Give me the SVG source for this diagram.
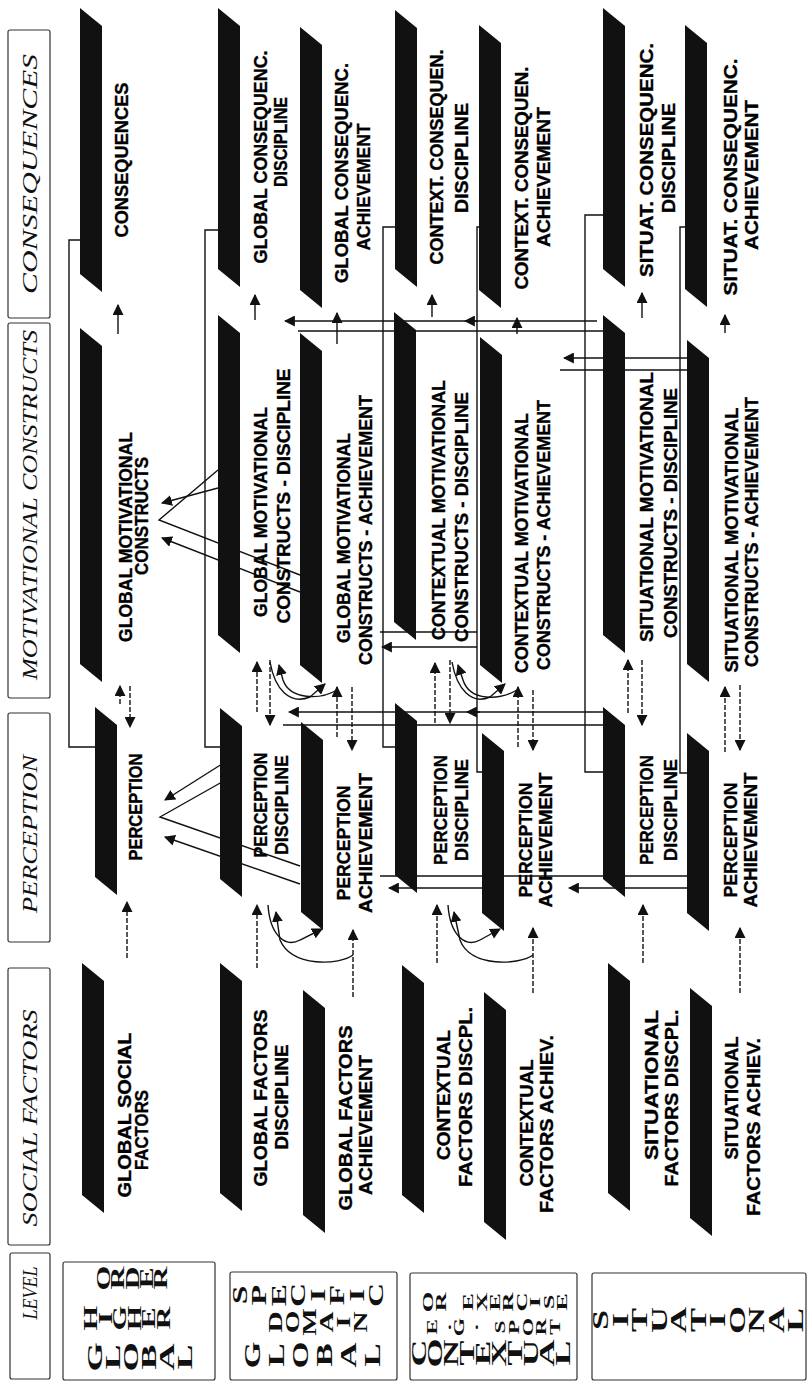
<svg xmlns="http://www.w3.org/2000/svg" width="809" height="1382" viewBox="0 0 809 1382">
<style>
.bar{fill:#111}
.t{font-family:"Liberation Sans",Arial,sans-serif;font-weight:bold;font-size:18px;fill:#000;stroke:#000;stroke-width:0.35}
.h{font-family:"Liberation Serif","Times New Roman",serif;font-style:italic;font-size:22px;fill:#111}
.bx{fill:none;stroke:#333;stroke-width:1.2}
.g{font-family:"Liberation Serif","Times New Roman",serif;font-weight:bold;fill:#111;text-anchor:middle}
.c{fill:none;stroke:#111;stroke-width:1.4}
.d{stroke-dasharray:5 2}
</style>
<defs>
<marker id="a" viewBox="0 0 10 10" refX="9" refY="5" markerUnits="userSpaceOnUse" markerWidth="11" markerHeight="11" orient="auto"><path d="M0,0 L10,5 L0,10 z" fill="#111"/></marker>
</defs>
<rect width="809" height="1382" fill="#fff"/>

<g id="headers">
<rect class="bx" x="8" y="30" width="42" height="288" rx="2"/>
<text class="h" transform="translate(37,174) rotate(-90)" text-anchor="middle" textLength="240" lengthAdjust="spacingAndGlyphs">CONSEQUENCES</text>
<rect class="bx" x="8" y="323" width="42" height="375" rx="2"/>
<text class="h" transform="translate(37,505) rotate(-90)" text-anchor="middle" textLength="350" lengthAdjust="spacingAndGlyphs">MOTIVATIONAL CONSTRUCTS</text>
<rect class="bx" x="8" y="713" width="42" height="229" rx="2"/>
<text class="h" transform="translate(37,834) rotate(-90)" text-anchor="middle" textLength="158" lengthAdjust="spacingAndGlyphs">PERCEPTION</text>
<rect class="bx" x="8" y="968" width="42" height="277" rx="2"/>
<text class="h" transform="translate(37,1118) rotate(-90)" text-anchor="middle" textLength="217" lengthAdjust="spacingAndGlyphs">SOCIAL FACTORS</text>
<rect class="bx" x="10" y="1253" width="40" height="126" rx="2"/>
<text class="h" transform="translate(37,1293) rotate(-90)" text-anchor="middle" textLength="53" lengthAdjust="spacingAndGlyphs">LEVEL</text>
</g>

<g id="levels">
<rect class="bx" x="63" y="1262" width="152" height="118" rx="2"/>
<g class="g" font-size="18">
<text transform="translate(110,1278) rotate(-90) scale(1.77,1)">O</text><text transform="translate(124,1278) rotate(-90) scale(1.77,1)">R</text><text transform="translate(139,1278) rotate(-90) scale(1.77,1)">D</text><text transform="translate(153,1278) rotate(-90) scale(1.77,1)">E</text><text transform="translate(167,1278) rotate(-90) scale(1.77,1)">R</text>
<text transform="translate(97,1318) rotate(-90) scale(1.77,1)">H</text><text transform="translate(112,1318) rotate(-90) scale(1.77,1)">I</text><text transform="translate(126,1318) rotate(-90) scale(1.77,1)">G</text><text transform="translate(141,1318) rotate(-90) scale(1.77,1)">H</text><text transform="translate(155,1318) rotate(-90) scale(1.77,1)">E</text><text transform="translate(170,1318) rotate(-90) scale(1.77,1)">R</text>
</g>
<g class="g" font-size="21">
<text transform="translate(102,1357) rotate(-90) scale(1.79,1)">G</text><text transform="translate(120,1357) rotate(-90) scale(1.79,1)">L</text><text transform="translate(138,1357) rotate(-90) scale(1.79,1)">O</text><text transform="translate(156,1357) rotate(-90) scale(1.79,1)">B</text><text transform="translate(174,1357) rotate(-90) scale(1.79,1)">A</text><text transform="translate(192,1357) rotate(-90) scale(1.79,1)">L</text>
</g>
<rect class="bx" x="230" y="1272" width="167" height="108" rx="2"/>
<g class="g" font-size="21">
<text transform="translate(247,1295) rotate(-90) scale(1.59,1)">S</text><text transform="translate(266,1295) rotate(-90) scale(1.59,1)">P</text><text transform="translate(286,1295) rotate(-90) scale(1.59,1)">E</text><text transform="translate(305,1295) rotate(-90) scale(1.59,1)">C</text><text transform="translate(325,1295) rotate(-90) scale(1.59,1)">I</text><text transform="translate(344,1295) rotate(-90) scale(1.59,1)">F</text><text transform="translate(364,1295) rotate(-90) scale(1.59,1)">I</text><text transform="translate(383,1295) rotate(-90) scale(1.59,1)">C</text>
</g>
<g class="g" font-size="18">
<text transform="translate(282,1322) rotate(-90) scale(1.62,1)">D</text><text transform="translate(299,1322) rotate(-90) scale(1.62,1)">O</text><text transform="translate(316,1322) rotate(-90) scale(1.62,1)">M</text><text transform="translate(333,1322) rotate(-90) scale(1.62,1)">A</text><text transform="translate(350,1322) rotate(-90) scale(1.62,1)">I</text><text transform="translate(367,1322) rotate(-90) scale(1.62,1)">N</text>
</g>
<g class="g" font-size="23">
<text transform="translate(260,1355) rotate(-90) scale(1.51,1)">G</text><text transform="translate(284,1355) rotate(-90) scale(1.51,1)">L</text><text transform="translate(308,1355) rotate(-90) scale(1.51,1)">O</text><text transform="translate(332,1355) rotate(-90) scale(1.51,1)">B</text><text transform="translate(356,1355) rotate(-90) scale(1.51,1)">A</text><text transform="translate(380,1355) rotate(-90) scale(1.51,1)">L</text>
</g>
<rect class="bx" x="410" y="1273" width="167" height="107" rx="2"/>
<g class="g" font-size="15">
<text transform="translate(433,1302) rotate(-90) scale(1.76,1)">O</text><text transform="translate(446,1302) rotate(-90) scale(1.76,1)">R</text><text transform="translate(473,1302) rotate(-90) scale(1.76,1)">E</text><text transform="translate(487,1302) rotate(-90) scale(1.76,1)">X</text><text transform="translate(500,1302) rotate(-90) scale(1.76,1)">E</text><text transform="translate(513,1302) rotate(-90) scale(1.76,1)">R</text><text transform="translate(527,1302) rotate(-90) scale(1.76,1)">C</text><text transform="translate(540,1302) rotate(-90) scale(1.76,1)">I</text><text transform="translate(554,1302) rotate(-90) scale(1.76,1)">S</text><text transform="translate(567,1302) rotate(-90) scale(1.76,1)">E</text>
<text transform="translate(437,1327) rotate(-90) scale(1.57,1)">E</text><text transform="translate(451,1327) rotate(-90) scale(1.57,1)">.</text><text transform="translate(464,1327) rotate(-90) scale(1.57,1)">G</text><text transform="translate(478,1327) rotate(-90) scale(1.57,1)">.</text><text transform="translate(505,1327) rotate(-90) scale(1.57,1)">S</text><text transform="translate(519,1327) rotate(-90) scale(1.57,1)">P</text><text transform="translate(533,1327) rotate(-90) scale(1.57,1)">O</text><text transform="translate(546,1327) rotate(-90) scale(1.57,1)">R</text><text transform="translate(560,1327) rotate(-90) scale(1.57,1)">T</text>
</g>
<g class="g" font-size="20">
<text transform="translate(426,1353) rotate(-90) scale(1.87,1)">C</text><text transform="translate(442,1353) rotate(-90) scale(1.87,1)">O</text><text transform="translate(458,1353) rotate(-90) scale(1.87,1)">N</text><text transform="translate(474,1353) rotate(-90) scale(1.87,1)">T</text><text transform="translate(490,1353) rotate(-90) scale(1.87,1)">E</text><text transform="translate(506,1353) rotate(-90) scale(1.87,1)">X</text><text transform="translate(522,1353) rotate(-90) scale(1.87,1)">T</text><text transform="translate(538,1353) rotate(-90) scale(1.87,1)">U</text><text transform="translate(554,1353) rotate(-90) scale(1.87,1)">A</text><text transform="translate(570,1353) rotate(-90) scale(1.87,1)">L</text>
</g>
<rect class="bx" x="592" y="1273" width="214" height="107" rx="2"/>
<g class="g" font-size="24">
<text transform="translate(608,1320) rotate(-90) scale(1.5,1)">S</text><text transform="translate(628,1320) rotate(-90) scale(1.5,1)">I</text><text transform="translate(647,1320) rotate(-90) scale(1.5,1)">T</text><text transform="translate(667,1320) rotate(-90) scale(1.5,1)">U</text><text transform="translate(686,1320) rotate(-90) scale(1.5,1)">A</text><text transform="translate(706,1320) rotate(-90) scale(1.5,1)">T</text><text transform="translate(725,1320) rotate(-90) scale(1.5,1)">I</text><text transform="translate(745,1320) rotate(-90) scale(1.5,1)">O</text><text transform="translate(764,1320) rotate(-90) scale(1.5,1)">N</text><text transform="translate(784,1320) rotate(-90) scale(1.5,1)">A</text><text transform="translate(803,1320) rotate(-90) scale(1.5,1)">L</text>
</g>
</g>

<g id="connectors">
<path class="c d" d="M127,958 V902" marker-end="url(#a)"/>
<path class="c d" d="M120,704 V686" marker-end="url(#a)"/>
<path class="c d" d="M130,686 V727" marker-end="url(#a)"/>
<path class="c" d="M118,334 V305" marker-end="url(#a)"/>
<path class="c" d="M95,747 H69 V240 H80"/>
<path class="c" d="M222,782 L160,817 L300,866"/>
<path class="c" d="M222,764 L165,800" marker-end="url(#a)"/>
<path class="c" d="M300,884 L165,837" marker-end="url(#a)"/>
<path class="c" d="M218,470 L159,520 L300,575"/>
<path class="c" d="M218,488 L162,503" marker-end="url(#a)"/>
<path class="c" d="M300,592 L162,538" marker-end="url(#a)"/>
<path class="c d" d="M257,968 V905" marker-end="url(#a)"/>
<path class="c d" d="M353,997 V930" marker-end="url(#a)"/>
<path class="c d" d="M257,712 V662" marker-end="url(#a)"/>
<path class="c d" d="M270,660 V725" marker-end="url(#a)"/>
<path class="c d" d="M337,737 V687" marker-end="url(#a)"/>
<path class="c d" d="M352,687 V750" marker-end="url(#a)"/>
<path class="c" d="M255,320 V295" marker-end="url(#a)"/>
<path class="c" d="M337,344 V313" marker-end="url(#a)"/>
<path class="c" d="M220,747 H205 V230 H218"/>
<path class="c" d="M353,955 C340,965 292,968 280,940 L276,912" marker-end="url(#a)"/>
<path class="c" d="M268,905 C270,935 285,948 300,940 L322,929" marker-end="url(#a)"/>
<path class="c" d="M337,690 C320,700 290,700 283,680 L279,665" marker-end="url(#a)"/>
<path class="c" d="M270,662 C275,690 290,705 310,697 L325,684" marker-end="url(#a)"/>
<path class="c d" d="M437,963 V905" marker-end="url(#a)"/>
<path class="c d" d="M533,993 V928" marker-end="url(#a)"/>
<path class="c d" d="M435,723 V663" marker-end="url(#a)"/>
<path class="c d" d="M450,660 V723" marker-end="url(#a)"/>
<path class="c d" d="M518,747 V687" marker-end="url(#a)"/>
<path class="c d" d="M533,690 V750" marker-end="url(#a)"/>
<path class="c" d="M432,317 V295" marker-end="url(#a)"/>
<path class="c" d="M517,334 V318" marker-end="url(#a)"/>
<path class="c" d="M395,747 H383 V227 H395"/>
<path class="c" d="M482,772 H477 V227 H480"/>
<path class="c" d="M533,955 C520,965 470,968 460,940 L454,912" marker-end="url(#a)"/>
<path class="c" d="M448,905 C450,935 465,948 480,940 L500,929" marker-end="url(#a)"/>
<path class="c" d="M517,690 C500,700 470,702 463,680 L458,665" marker-end="url(#a)"/>
<path class="c" d="M452,662 C457,690 472,705 490,697 L505,684" marker-end="url(#a)"/>
<path class="c d" d="M643,963 V905" marker-end="url(#a)"/>
<path class="c d" d="M740,993 V928" marker-end="url(#a)"/>
<path class="c d" d="M628,713 V660" marker-end="url(#a)"/>
<path class="c d" d="M642,660 V725" marker-end="url(#a)"/>
<path class="c d" d="M725,752 V687" marker-end="url(#a)"/>
<path class="c d" d="M740,685 V750" marker-end="url(#a)"/>
<path class="c" d="M642,318 V293" marker-end="url(#a)"/>
<path class="c" d="M725,333 V315" marker-end="url(#a)"/>
<path class="c" d="M603,772 H585 V215 H603"/>
<path class="c" d="M687,773 H680 V227 H685"/>
<path class="c" d="M597,321 H465" marker-end="url(#a)"/>
<path class="c" d="M478,321 H285" marker-end="url(#a)"/>
<path class="c" d="M298,331 H603"/>
<path class="c" d="M687,358 H564" marker-end="url(#a)"/>
<path class="c" d="M560,370 H687"/>
<path class="c" d="M477,647 H382" marker-end="url(#a)"/>
<path class="c" d="M380,632 H477"/>
<path class="c" d="M603,712 H467" marker-end="url(#a)"/>
<path class="c" d="M480,712 H289" marker-end="url(#a)"/>
<path class="c" d="M283,725 H603"/>
<path class="c" d="M687,888 H569" marker-end="url(#a)"/>
<path class="c" d="M482,888 H389" marker-end="url(#a)"/>
<path class="c" d="M380,876 H687"/>
</g>

<g id="n_gsf"><polygon class="bar" points="82,963 104,981 104,1213 82,1195"/>
<text class="t" transform="translate(131,1115) rotate(-90)" text-anchor="middle" textLength="165" lengthAdjust="spacingAndGlyphs">GLOBAL SOCIAL</text>
<text class="t" transform="translate(148,1130) rotate(-90)" text-anchor="middle" textLength="80" lengthAdjust="spacingAndGlyphs">FACTORS</text></g>
<g id="n_per"><polygon class="bar" points="95,707 117,725 117,895 95,877"/>
<text class="t" transform="translate(142,807) rotate(-90)" text-anchor="middle" textLength="107" lengthAdjust="spacingAndGlyphs">PERCEPTION</text></g>
<g id="n_gmc"><polygon class="bar" points="80,328 102,346 102,682 80,664"/>
<text class="t" transform="translate(132,537) rotate(-90)" text-anchor="middle" textLength="210" lengthAdjust="spacingAndGlyphs">GLOBAL MOTIVATIONAL</text>
<text class="t" transform="translate(148,516) rotate(-90)" text-anchor="middle" textLength="118" lengthAdjust="spacingAndGlyphs">CONSTRUCTS</text></g>
<g id="n_con"><polygon class="bar" points="80,8 102,26 102,292 80,274"/>
<text class="t" transform="translate(128,160) rotate(-90)" text-anchor="middle" textLength="155" lengthAdjust="spacingAndGlyphs">CONSEQUENCES</text></g>

<g id="n_gfd"><polygon class="bar" points="220,963 242,981 242,1211 220,1193"/>
<text class="t" transform="translate(267,1098) rotate(-90)" text-anchor="middle" textLength="177" lengthAdjust="spacingAndGlyphs">GLOBAL FACTORS</text>
<text class="t" transform="translate(288,1097) rotate(-90)" text-anchor="middle" textLength="105" lengthAdjust="spacingAndGlyphs">DISCIPLINE</text></g>
<g id="n_gfa"><polygon class="bar" points="303,990 325,1008 325,1233 303,1215"/>
<text class="t" transform="translate(352,1118) rotate(-90)" text-anchor="middle" textLength="185" lengthAdjust="spacingAndGlyphs">GLOBAL FACTORS</text>
<text class="t" transform="translate(372,1125) rotate(-90)" text-anchor="middle" textLength="140" lengthAdjust="spacingAndGlyphs">ACHIEVEMENT</text></g>
<g id="n_pd2"><polygon class="bar" points="220,708 242,726 242,897 220,879"/>
<text class="t" transform="translate(267,805) rotate(-90)" text-anchor="middle" textLength="105" lengthAdjust="spacingAndGlyphs">PERCEPTION</text>
<text class="t" transform="translate(288,805) rotate(-90)" text-anchor="middle" textLength="100" lengthAdjust="spacingAndGlyphs">DISCIPLINE</text></g>
<g id="n_pa2"><polygon class="bar" points="301,722 323,740 323,930 301,912"/>
<text class="t" transform="translate(350,843) rotate(-90)" text-anchor="middle" textLength="115" lengthAdjust="spacingAndGlyphs">PERCEPTION</text>
<text class="t" transform="translate(372,843) rotate(-90)" text-anchor="middle" textLength="140" lengthAdjust="spacingAndGlyphs">ACHIEVEMENT</text></g>
<g id="n_gmd"><polygon class="bar" points="218,315 240,333 240,653 218,635"/>
<text class="t" transform="translate(267,512) rotate(-90)" text-anchor="middle" textLength="210" lengthAdjust="spacingAndGlyphs">GLOBAL MOTIVATIONAL</text>
<text class="t" transform="translate(290,496) rotate(-90)" text-anchor="middle" textLength="255" lengthAdjust="spacingAndGlyphs">CONSTRUCTS - DISCIPLINE</text></g>
<g id="n_gma"><polygon class="bar" points="300,333 322,351 322,683 300,665"/>
<text class="t" transform="translate(350,538) rotate(-90)" text-anchor="middle" textLength="210" lengthAdjust="spacingAndGlyphs">GLOBAL MOTIVATIONAL</text>
<text class="t" transform="translate(372,530) rotate(-90)" text-anchor="middle" textLength="270" lengthAdjust="spacingAndGlyphs">CONSTRUCTS - ACHIEVEMENT</text></g>
<g id="n_gcd"><polygon class="bar" points="218,8 240,26 240,287 218,269"/>
<text class="t" transform="translate(267,157) rotate(-90)" text-anchor="middle" textLength="213" lengthAdjust="spacingAndGlyphs">GLOBAL CONSEQUENC.</text>
<text class="t" transform="translate(287,142) rotate(-90)" text-anchor="middle" textLength="90" lengthAdjust="spacingAndGlyphs">DISCIPLINE</text></g>
<g id="n_gca"><polygon class="bar" points="300,27 322,45 322,308 300,290"/>
<text class="t" transform="translate(348,173) rotate(-90)" text-anchor="middle" textLength="220" lengthAdjust="spacingAndGlyphs">GLOBAL CONSEQUENC.</text>
<text class="t" transform="translate(370,187) rotate(-90)" text-anchor="middle" textLength="127" lengthAdjust="spacingAndGlyphs">ACHIEVEMENT</text></g>

<g id="n_cfd"><polygon class="bar" points="402,965 424,983 424,1213 402,1195"/>
<text class="t" transform="translate(450,1095) rotate(-90)" text-anchor="middle" textLength="130" lengthAdjust="spacingAndGlyphs">CONTEXTUAL</text>
<text class="t" transform="translate(472,1097) rotate(-90)" text-anchor="middle" textLength="180" lengthAdjust="spacingAndGlyphs">FACTORS DISCPL.</text></g>
<g id="n_cfa"><polygon class="bar" points="484,992 506,1010 506,1240 484,1222"/>
<text class="t" transform="translate(533,1123) rotate(-90)" text-anchor="middle" textLength="127" lengthAdjust="spacingAndGlyphs">CONTEXTUAL</text>
<text class="t" transform="translate(553,1124) rotate(-90)" text-anchor="middle" textLength="178" lengthAdjust="spacingAndGlyphs">FACTORS ACHIEV.</text></g>
<g id="n_pd3"><polygon class="bar" points="395,703 417,721 417,893 395,875"/>
<text class="t" transform="translate(447,810) rotate(-90)" text-anchor="middle" textLength="110" lengthAdjust="spacingAndGlyphs">PERCEPTION</text>
<text class="t" transform="translate(468,810) rotate(-90)" text-anchor="middle" textLength="102" lengthAdjust="spacingAndGlyphs">DISCIPLINE</text></g>
<g id="n_pa3"><polygon class="bar" points="482,733 504,751 504,931 482,913"/>
<text class="t" transform="translate(532,840) rotate(-90)" text-anchor="middle" textLength="115" lengthAdjust="spacingAndGlyphs">PERCEPTION</text>
<text class="t" transform="translate(552,840) rotate(-90)" text-anchor="middle" textLength="135" lengthAdjust="spacingAndGlyphs">ACHIEVEMENT</text></g>
<g id="n_cmd"><polygon class="bar" points="394,312 416,330 416,640 394,622"/>
<text class="t" transform="translate(445,510) rotate(-90)" text-anchor="middle" textLength="260" lengthAdjust="spacingAndGlyphs">CONTEXTUAL MOTIVATIONAL</text>
<text class="t" transform="translate(468,517) rotate(-90)" text-anchor="middle" textLength="250" lengthAdjust="spacingAndGlyphs">CONSTRUCTS - DISCIPLINE</text></g>
<g id="n_cma"><polygon class="bar" points="480,337 502,355 502,683 480,665"/>
<text class="t" transform="translate(528,543) rotate(-90)" text-anchor="middle" textLength="260" lengthAdjust="spacingAndGlyphs">CONTEXTUAL MOTIVATIONAL</text>
<text class="t" transform="translate(550,535) rotate(-90)" text-anchor="middle" textLength="270" lengthAdjust="spacingAndGlyphs">CONSTRUCTS - ACHIEVEMENT</text></g>
<g id="n_ccd"><polygon class="bar" points="395,10 417,28 417,287 395,269"/>
<text class="t" transform="translate(443,157) rotate(-90)" text-anchor="middle" textLength="215" lengthAdjust="spacingAndGlyphs">CONTEXT. CONSEQUEN.</text>
<text class="t" transform="translate(468,158) rotate(-90)" text-anchor="middle" textLength="110" lengthAdjust="spacingAndGlyphs">DISCIPLINE</text></g>
<g id="n_cca"><polygon class="bar" points="479,25 501,43 501,308 479,290"/>
<text class="t" transform="translate(528,178) rotate(-90)" text-anchor="middle" textLength="223" lengthAdjust="spacingAndGlyphs">CONTEXT. CONSEQUEN.</text>
<text class="t" transform="translate(550,177) rotate(-90)" text-anchor="middle" textLength="140" lengthAdjust="spacingAndGlyphs">ACHIEVEMENT</text></g>

<g id="n_sfd"><polygon class="bar" points="608,963 630,981 630,1211 608,1193"/>
<text class="t" transform="translate(658,1085) rotate(-90)" text-anchor="middle" textLength="150" lengthAdjust="spacingAndGlyphs">SITUATIONAL</text>
<text class="t" transform="translate(678,1098) rotate(-90)" text-anchor="middle" textLength="177" lengthAdjust="spacingAndGlyphs">FACTORS DISCPL.</text></g>
<g id="n_sfa"><polygon class="bar" points="690,988 712,1006 712,1236 690,1218"/>
<text class="t" transform="translate(738,1098) rotate(-90)" text-anchor="middle" textLength="123" lengthAdjust="spacingAndGlyphs">SITUATIONAL</text>
<text class="t" transform="translate(760,1127) rotate(-90)" text-anchor="middle" textLength="178" lengthAdjust="spacingAndGlyphs">FACTORS ACHIEV.</text></g>
<g id="n_pd4"><polygon class="bar" points="603,707 625,725 625,897 603,879"/>
<text class="t" transform="translate(653,810) rotate(-90)" text-anchor="middle" textLength="110" lengthAdjust="spacingAndGlyphs">PERCEPTION</text>
<text class="t" transform="translate(677,810) rotate(-90)" text-anchor="middle" textLength="102" lengthAdjust="spacingAndGlyphs">DISCIPLINE</text></g>
<g id="n_pa4"><polygon class="bar" points="687,733 709,751 709,931 687,913"/>
<text class="t" transform="translate(737,840) rotate(-90)" text-anchor="middle" textLength="115" lengthAdjust="spacingAndGlyphs">PERCEPTION</text>
<text class="t" transform="translate(757,840) rotate(-90)" text-anchor="middle" textLength="135" lengthAdjust="spacingAndGlyphs">ACHIEVEMENT</text></g>
<g id="n_smd"><polygon class="bar" points="603,315 625,333 625,653 603,635"/>
<text class="t" transform="translate(653,507) rotate(-90)" text-anchor="middle" textLength="270" lengthAdjust="spacingAndGlyphs">SITUATIONAL MOTIVATIONAL</text>
<text class="t" transform="translate(677,513) rotate(-90)" text-anchor="middle" textLength="250" lengthAdjust="spacingAndGlyphs">CONSTRUCTS - DISCIPLINE</text></g>
<g id="n_sma"><polygon class="bar" points="687,340 709,358 709,682 687,664"/>
<text class="t" transform="translate(738,540) rotate(-90)" text-anchor="middle" textLength="265" lengthAdjust="spacingAndGlyphs">SITUATIONAL MOTIVATIONAL</text>
<text class="t" transform="translate(758,532) rotate(-90)" text-anchor="middle" textLength="270" lengthAdjust="spacingAndGlyphs">CONSTRUCTS - ACHIEVEMENT</text></g>
<g id="n_scd"><polygon class="bar" points="603,8 625,26 625,287 603,269"/>
<text class="t" transform="translate(653,160) rotate(-90)" text-anchor="middle" textLength="234" lengthAdjust="spacingAndGlyphs">SITUAT. CONSEQUENC.</text>
<text class="t" transform="translate(675,158) rotate(-90)" text-anchor="middle" textLength="110" lengthAdjust="spacingAndGlyphs">DISCIPLINE</text></g>
<g id="n_sca"><polygon class="bar" points="685,25 707,43 707,307 685,289"/>
<text class="t" transform="translate(737,177) rotate(-90)" text-anchor="middle" textLength="237" lengthAdjust="spacingAndGlyphs">SITUAT. CONSEQUENC.</text>
<text class="t" transform="translate(758,175) rotate(-90)" text-anchor="middle" textLength="150" lengthAdjust="spacingAndGlyphs">ACHIEVEMENT</text></g>
</svg>
